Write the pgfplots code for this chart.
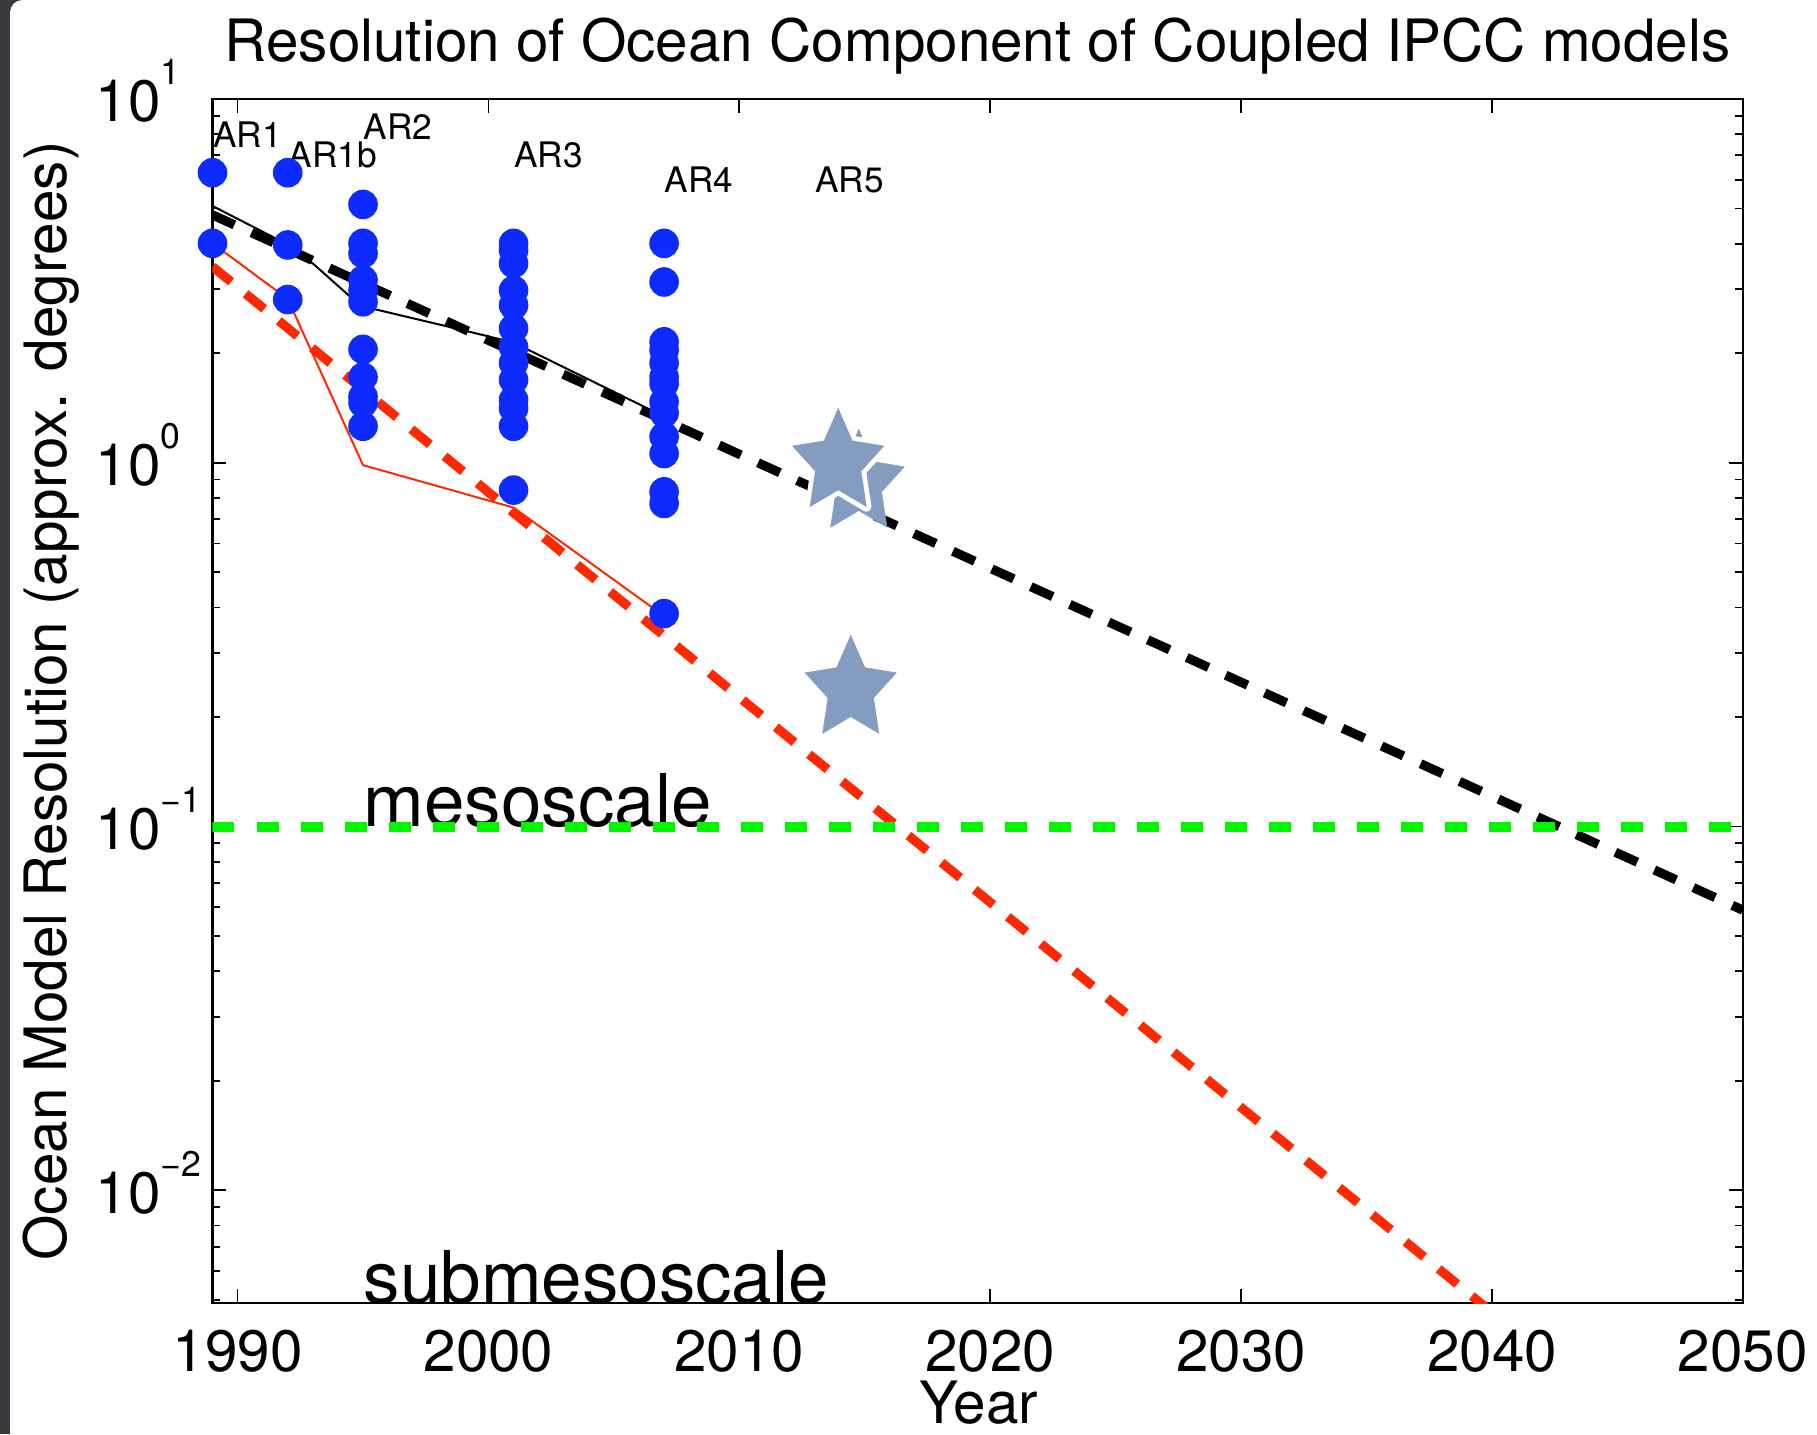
\documentclass[border=0pt]{standalone}
\usepackage{pgfplots}
\pgfplotsset{compat=1.18}
\usepackage{fontspec}
\setmainfont{TeX Gyre Heros}
\definecolor{dotblue}{RGB}{13,43,255}
\definecolor{lred}{RGB}{255,40,0}
\definecolor{lgreen}{RGB}{0,245,0}
\definecolor{starblue}{RGB}{131,156,192}
\definecolor{framegray}{RGB}{58,58,62}

\newcommand{\tp}[1]{10\rlap{\raisebox{9.2pt}{\fontsize{8.9pt}{9pt}\selectfont #1}}}

\pgfdeclareplotmark{fstar}{%
  \pgftransformyscale{1.13}%
  \pgfpathmoveto{\pgfpointpolar{90}{\pgfplotmarksize}}%
  \pgfpathlineto{\pgfpointpolar{126}{0.5\pgfplotmarksize}}%
  \pgfpathlineto{\pgfpointpolar{162}{\pgfplotmarksize}}%
  \pgfpathlineto{\pgfpointpolar{198}{0.5\pgfplotmarksize}}%
  \pgfpathlineto{\pgfpointpolar{234}{\pgfplotmarksize}}%
  \pgfpathlineto{\pgfpointpolar{270}{0.5\pgfplotmarksize}}%
  \pgfpathlineto{\pgfpointpolar{306}{\pgfplotmarksize}}%
  \pgfpathlineto{\pgfpointpolar{342}{0.5\pgfplotmarksize}}%
  \pgfpathlineto{\pgfpointpolar{18}{\pgfplotmarksize}}%
  \pgfpathlineto{\pgfpointpolar{54}{0.5\pgfplotmarksize}}%
  \pgfpathclose
  \pgfusepathqfillstroke
}

\begin{document}
\begin{tikzpicture}
\begin{axis}[
  scale only axis, width=382.6pt, height=301pt,
  xmin=1989, xmax=2050, ymode=log, ymin=0.0049, ymax=10,
  axis line style={line width=0.6pt},
  tick style={line width=0.45pt, black},
  major tick length=3.5pt, minor tick length=2pt,
  tick align=inside, tick pos=both,
  xtick={1990,2000,2010,2020,2030,2040,2050},
  xticklabels={1990,2000,2010,2020,2030,2040,2050},
  ytick={0.01,0.1,1,10},
  yticklabels={\tp{\char"2212 2},\tp{\char"2212 1},\tp{0},\tp{1}},
  minor ytick={0.005,0.006,0.007,0.008,0.009,0.02,0.03,0.04,0.05,0.06,0.07,0.08,0.09,0.2,0.3,0.4,0.5,0.6,0.7,0.8,0.9,2,3,4,5,6,7,8,9},
  xticklabel style={font=\fontsize{14.6pt}{16pt}\selectfont, anchor=base, yshift=-17pt, inner sep=0pt},
  yticklabel style={font=\fontsize{14.6pt}{16pt}\selectfont, anchor=base east, xshift=-12.7pt, yshift=-5.7pt, inner sep=0pt},
]
% model resolutions (blue dots)
\addplot[only marks, mark=*, mark size=3.5pt, dotblue, mark options={draw=dotblue, fill=dotblue}] coordinates {
 (1989,6.27) (1989,4.01)
 (1992,6.27) (1992,3.97) (1992,2.81)
 (1995,5.13) (1995,4.01) (1995,3.76) (1995,3.18) (1995,2.98) (1995,2.77) (1995,2.05) (1995,1.72) (1995,1.52) (1995,1.46) (1995,1.26)
 (2001,4.01) (2001,3.84) (2001,3.53) (2001,2.98) (2001,2.71) (2001,2.34) (2001,2.08) (2001,1.88) (2001,1.69) (2001,1.49) (2001,1.41) (2001,1.26) (2001,0.841)
 (2007,4.01) (2007,3.14) (2007,2.15) (2007,2.04) (2007,1.88) (2007,1.72) (2007,1.65) (2007,1.47) (2007,1.37) (2007,1.18) (2007,1.06) (2007,0.832) (2007,0.773) (2007,0.385)
};
% mean (black) and finest (red)
\addplot[black, line width=0.5pt] coordinates {(1989,5.08) (1992,3.98) (1993,3.53) (1994.9,2.70) (1998.7,2.34) (2001,2.14) (2007,1.34)};
\addplot[lred, line width=0.5pt] coordinates {(1989,4.01) (1992,2.82) (1995,0.985) (2001,0.753) (2007,0.379)};
% trends
\addplot[black, line width=2.3pt, dash pattern=on 6pt off 4.7pt] coordinates {(1989,4.8) (2050,0.0589)};
\addplot[lred, line width=2.3pt, dash pattern=on 6pt off 4.7pt] coordinates {(1989,3.46) (2050,0.00126)};
% labels
\node[anchor=west, inner sep=0pt, font=\fontsize{8.8pt}{10pt}\selectfont] at (axis cs:1989,8) {AR1};
\node[anchor=west, inner sep=0pt, font=\fontsize{8.8pt}{10pt}\selectfont] at (axis cs:1992,7) {AR1b};
\node[anchor=west, inner sep=0pt, font=\fontsize{8.8pt}{10pt}\selectfont] at (axis cs:1995,8.4) {AR2};
\node[anchor=west, inner sep=0pt, font=\fontsize{8.8pt}{10pt}\selectfont] at (axis cs:2001,7) {AR3};
\node[anchor=west, inner sep=0pt, font=\fontsize{8.8pt}{10pt}\selectfont] at (axis cs:2007,6) {AR4};
\node[anchor=west, inner sep=0pt, font=\fontsize{8.8pt}{10pt}\selectfont] at (axis cs:2013,6) {AR5};
\node[anchor=base west, inner sep=0pt, font=\fontsize{18.2pt}{20pt}\selectfont] at (axis cs:1995,0.1) {mesoscale};
\node[anchor=base west, inner sep=0pt, font=\fontsize{18.2pt}{20pt}\selectfont] at (axis cs:1995,0.0049) {submesoscale};
\addplot[lgreen, line width=2.5pt, dash pattern=on 5.5pt off 5.5pt] coordinates {(1989,0.1) (2050,0.1)};
% AR5 stars
\addplot[only marks, mark=fstar, mark size=12pt, mark options={fill=starblue, draw=starblue, line width=0.1pt}] coordinates {(2014.76,0.877)};
\addplot[only marks, mark=fstar, mark size=12pt, mark options={fill=white, draw=white, line width=2.5pt, line join=round}] coordinates {(2013.94,1.0)};
\addplot[only marks, mark=fstar, mark size=12pt, mark options={fill=starblue, draw=starblue, line width=0.1pt}] coordinates {(2013.94,1.0) (2014.44,0.238)};
\end{axis}
\node[anchor=base, inner sep=0pt, font=\fontsize{14.6pt}{16pt}\selectfont] at (191.3pt,310.4pt) {Resolution of Ocean Component of Coupled IPCC models};
\node[anchor=base, inner sep=0pt, font=\fontsize{14.6pt}{16pt}\selectfont] at (191.6pt,-30.2pt) {Year};
\node[anchor=base, rotate=90, inner sep=0pt, font=\fontsize{14.6pt}{16pt}\selectfont] at (-36.6pt,150.5pt) {Ocean Model Resolution (approx. degrees)};
\fill[framegray] (-53.125pt,-32.75pt) rectangle (-50.6pt,325.75pt);
\fill[framegray] (-50.6pt,325.75pt) -- (-47.6pt,325.75pt) arc[start angle=90, end angle=180, radius=3pt] -- cycle;
\pgfresetboundingbox
\useasboundingbox (-53.125pt,-32.75pt) rectangle (401.125pt,325.75pt);
\end{tikzpicture}
\end{document}
